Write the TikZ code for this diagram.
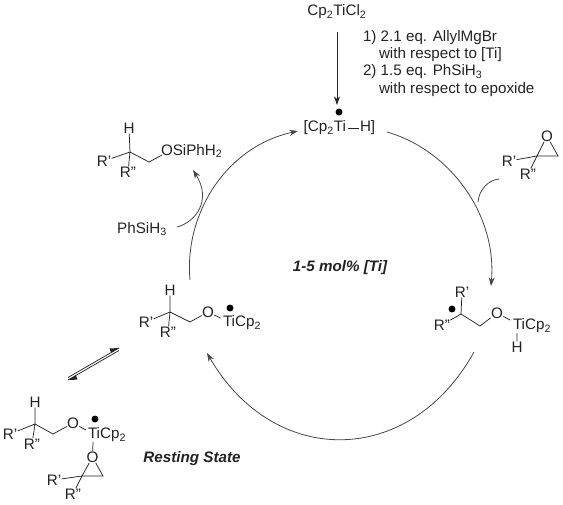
\documentclass[tikz,border=0pt]{standalone}
\usepackage{fontspec}
\setmainfont{Liberation Sans}
\usetikzlibrary{arrows.meta,calc}
\definecolor{ink}{RGB}{35,35,35}
\definecolor{arcink}{RGB}{70,70,70}
\tikzset{
  x=0.75pt,y=-0.75pt,
  txt/.style={font=\fontsize{11.4}{13}\selectfont,text=ink,inner sep=0pt,outer sep=0pt},
  atom/.style={txt,inner sep=0.3pt},
  leftxt/.style={txt,anchor=west},
  bond/.style={draw=ink,line width=0.55pt},
  radical/.style={circle,fill=black,inner sep=0pt,minimum size=5.2pt},
  tip/.style={-{Stealth[length=6.5pt,width=4.5pt]}},
  cyc/.style={draw=arcink,line width=0.6pt},
  emph/.style={txt,font=\fontsize{11.4}{13}\selectfont\bfseries\itshape},
  harp/.style={draw=ink,line width=0.55pt},
}
\begin{document}
\begin{tikzpicture}
\useasboundingbox (0,0) rectangle (563,504);
% Top reagent
\node[txt] (tcl) at (337,12) {Cp\textsubscript{2}TiCl\textsubscript{2}};
\node[leftxt] (c1) at (363,38) {1) 2.1 eq. AllylMgBr};
\node[leftxt] (c2) at (379,55) {with respect to [Ti]};
\node[leftxt] (c3) at (363,72) {2) 1.5 eq. PhSiH\textsubscript{3}};
\node[leftxt] (c4) at (379,90) {with respect to epoxide};
% Ti-H
\node[txt,anchor=east] (tih) at (346,128) {[Cp\textsubscript{2}Ti};
\node[txt,anchor=west] (tihh) at (360,128) {H]};
\draw[bond] ($(tih.east)+(2,0)$) coordinate (tib1) -- ($(tihh.west)+(-1,0)$) coordinate (tib2);
\node[radical] (tidot) at (339,112) {};
\coordinate (arrowstart) at (337,32);
\coordinate (arrowend) at (337,105);
\draw[bond,tip] (arrowstart) -- (arrowend);
% Cycle anchors
\coordinate (a1s) at (387,132);
\coordinate (a1e) at (491,286);
\coordinate (a2s) at (474,352);
\coordinate (a2e) at (207,353);
\coordinate (a3s) at (190,280);
\coordinate (a3e) at (298,131);
\draw[cyc,tip] (a1s) .. controls (450,150) and (497,215) .. (a1e);
\draw[cyc,tip] (a2s) to[out=241,in=-60,looseness=1.27] (a2e);
\draw[cyc,tip] (a3s) .. controls (184,215) and (225,147) .. (a3e);
% Hook arrows
\coordinate (h1s) at (177,227);
\coordinate (h1e) at (193,170);
\draw[cyc,tip] (h1s) .. controls (196,222) and (212,200) .. (h1e);
\coordinate (h2s) at (499,179);
\coordinate (h2e) at (478,202);
\draw[cyc] (h2s) .. controls (488,180) and (479,190) .. (h2e);
% Centre labels
\node[emph] (cat) at (340,268) {1-5 mol\% [Ti]};
\node[emph] (rest) at (192,459) {Resting State};
\node[txt] (phsi) at (142,229) {PhSiH\textsubscript{3}};
% Top-left product
\node[atom] (p1h) at (129,128) {H};
\node[atom] (p1r1) at (104,161) {R'};
\node[atom] (p1r2) at (128,172) {R''};
\coordinate (p1c) at (130,152);
\coordinate (p1d) at (149,162);
\node[txt,anchor=west] (p1o) at (161,151) {OSiPhH\textsubscript{2}};
\draw[bond] (p1h) -- (p1c) (p1r1) -- (p1c) (p1r2) -- (p1c) -- (p1d) -- (162,155);
% Epoxide
\node[atom] (eo) at (547,136) {O};
\node[atom] (er1) at (509,161) {R'};
\node[atom] (er2) at (528,174) {R''};
\coordinate (ea) at (537,156);
\coordinate (eb) at (558,156);
\draw[bond] (eo) -- (ea) -- (eb) -- (eo) (er1) -- (ea) (er2) -- (ea);
% Left intermediate
\node[atom] (lh) at (170,290) {H};
\node[atom] (lr1) at (146,322) {R'};
\node[atom] (lr2) at (168,332) {R''};
\coordinate (lc) at (170,312);
\coordinate (ld) at (190,322);
\node[atom] (lo) at (208,312) {O};
\node[txt,anchor=west] (lti) at (223,323) {TiCp\textsubscript{2}};
\coordinate (ltib) at (220.5,318);
\node[radical] (ldot) at (230,308) {};
\draw[bond] (lh) -- (lc) (lr1) -- (lc) (lr2) -- (lc) -- (ld) -- (lo) -- (ltib);
% Right intermediate
\node[atom] (rr1) at (462,292) {R'};
\node[atom] (rr2) at (442,325) {R''};
\coordinate (rc) at (461,314);
\coordinate (rd) at (480,326);
\node[atom] (ro) at (497,313) {O};
\node[txt,anchor=west] (rti) at (513,326) {TiCp\textsubscript{2}};
\node[atom] (rh) at (517,347) {H};
\coordinate (rtib) at (510,320);
\coordinate (rtic) at (517,333);
\node[radical] (rdot) at (452,309) {};
\draw[bond] (rr1) -- (rc) (rr2) -- (rc) -- (rd) -- (ro) -- (rtib) (rtic) -- (rh);
% Equilibrium
\coordinate (e1a) at (68,377.5);
\coordinate (e1b) at (119,348);
\coordinate (e2a) at (68,380);
\coordinate (e2b) at (119,350.5);
\draw[harp] (e1a) -- (e1b);
\fill[ink] (e1b) -- (109.5,348.5) -- (111,352.6) -- cycle;
\draw[harp] (e2a) -- (e2b);
\fill[ink] (e2a) -- (77.5,379.6) -- (76,375.4) -- cycle;
% Resting state
\node[atom] (sh) at (35,402) {H};
\node[atom] (sr1) at (10,434) {R'};
\node[atom] (sr2) at (32,444) {R''};
\coordinate (sc) at (35,424);
\coordinate (sd) at (53,434);
\node[atom] (so) at (73,423) {O};
\node[txt,anchor=west] (sti) at (88,435) {TiCp\textsubscript{2}};
\coordinate (stib) at (86,430);
\coordinate (stic) at (93,442);
\node[radical] (sdot) at (95,419) {};
\node[atom] (seo) at (92.5,457) {O};
\coordinate (sea) at (82,476);
\coordinate (seb) at (103,476);
\node[atom] (ser1) at (54,480) {R'};
\node[atom] (ser2) at (73,494) {R''};
\draw[bond] (sh) -- (sc) (sr1) -- (sc) (sr2) -- (sc) -- (sd) -- (so) -- (stib) (stic) -- (seo);
\draw[bond] (seo) -- (sea) -- (seb) -- (seo) (ser1) -- (sea) (ser2) -- (sea);
\end{tikzpicture}
\end{document}
